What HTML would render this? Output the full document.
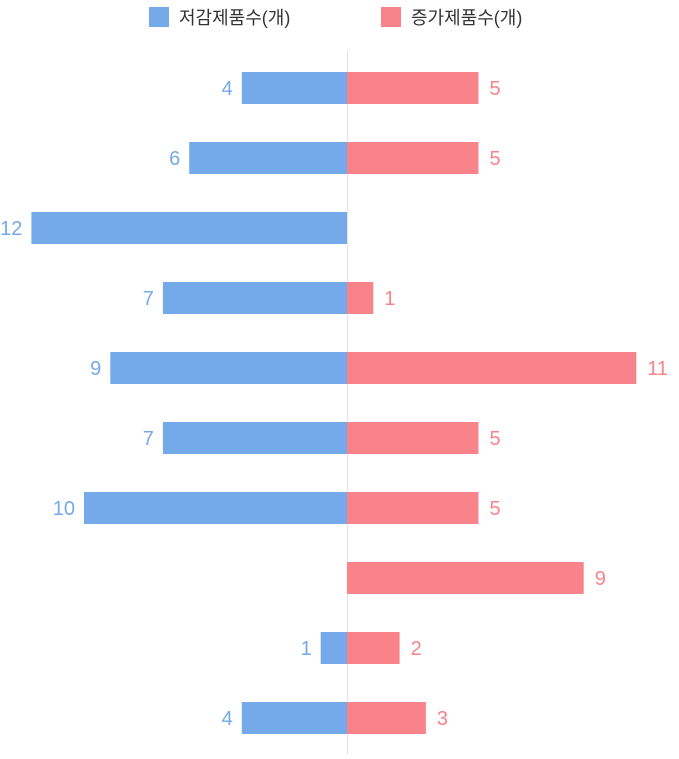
<!DOCTYPE html>
<html><head><meta charset="utf-8">
<style>
html,body{margin:0;padding:0;background:#fff;}
body{width:679px;height:754px;overflow:hidden;font-family:"Liberation Sans","Noto Sans CJK KR",sans-serif;}
</style></head>
<body>
<svg id="chart" width="679" height="754" xmlns="http://www.w3.org/2000/svg">
  <g>
    <rect x="149" y="7" width="20" height="20" fill="#74aae9"/>
    <text x="179" y="24" font-size="18" fill="#333" font-family="Liberation Sans, Noto Sans CJK KR, sans-serif">저감제품수(개)</text>
    <rect x="381" y="7" width="20" height="20" fill="#f9838a"/>
    <text x="411" y="24" font-size="18" fill="#333" font-family="Liberation Sans, Noto Sans CJK KR, sans-serif">증가제품수(개)</text>
  </g>
  <line x1="347.5" y1="50" x2="347.5" y2="754" stroke="#e3e3e3" stroke-width="1"/>
  <g id="bars"></g>
</svg>
<script>
const categories = ["row-1","row-2","row-3","row-4","row-5","row-6","row-7","row-8","row-9","row-10"];
const reducedValues = [4, 6, 12, 7, 9, 7, 10, 0, 1, 4];
const increasedValues = [5, 5, 0, 1, 11, 5, 5, 9, 2, 3];

const ns = "http://www.w3.org/2000/svg";
const zeroX = 347;
const unit = 26.3;
const rowTop = 72, rowStep = 70, barH = 32;
const xLeft = v => zeroX - v * unit;
const xRight = v => zeroX + v * unit;
const yRow = i => rowTop + i * rowStep;
const g = document.getElementById("bars");

function mk(tag, attrs){
  const el = document.createElementNS(ns, tag);
  for (const k in attrs) el.setAttribute(k, attrs[k]);
  return el;
}

categories.forEach((c, i) => {
  const y = yRow(i);
  const r = reducedValues[i];
  if (r > 0) {
    const b = mk("rect", {x: xLeft(r), y: y, width: zeroX - xLeft(r), height: barH, fill: "#74aae9"});
    
    
    g.appendChild(b);
    const t = mk("text", {x: xLeft(r) - 9, y: y + 23, "text-anchor": "end", "font-size": "20", fill: "#74aae9"});
    t.textContent = r;
    
    
    g.appendChild(t);
  }
  const v = increasedValues[i];
  if (v > 0) {
    const b = mk("rect", {x: zeroX, y: y, width: xRight(v) - zeroX, height: barH, fill: "#f9838a"});
    
    
    g.appendChild(b);
    const t = mk("text", {x: xRight(v) + 11, y: y + 23, "text-anchor": "start", "font-size": "20", fill: "#f9838a"});
    t.textContent = v;
    
    
    g.appendChild(t);
  }
});
</script>
</body></html>
